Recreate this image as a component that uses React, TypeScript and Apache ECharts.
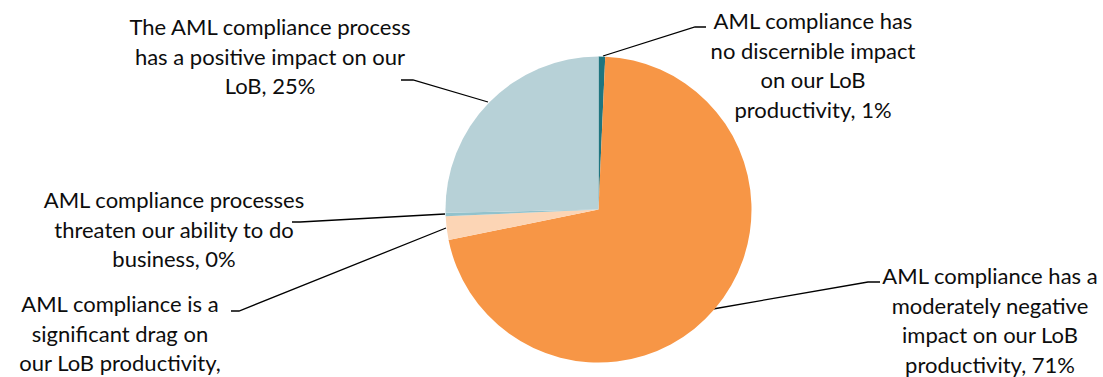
import React, { useEffect, useRef } from "react";
import * as echarts from "echarts";

const categories = [
  "AML compliance has\nno discernible impact\non our LoB\nproductivity",
  "AML compliance has a\nmoderately negative\nimpact on our LoB\nproductivity",
  "AML compliance is a\nsignificant drag on\nour LoB productivity",
  "AML compliance processes\nthreaten our ability to do\nbusiness",
  "The AML compliance process\nhas a positive impact on our\nLoB",
];
const values = [0.7, 71.1, 2.5, 0.35, 25.35];
const colors = ["#1F757F", "#F79646", "#FCD5B5", "#92C2CC", "#B7D1D7"];
// the reference cuts this slice's percentage off at the bottom edge
const percentHidden = [false, false, true, false, false];

// label anchor (center x, top y) and label-line elbow points, per slice
const labelAnchors = [
  { x: 813, y: 6, line: [[603, 56], [695, 27], [706, 27]] },
  { x: 990, y: 261, line: [[713, 309], [868, 282], [880, 282]] },
  { x: 120, y: 289, line: [[446, 228], [239, 311], [231, 311]] },
  { x: 174, y: 185, line: [[445, 214], [300, 222], [292, 222]] },
  { x: 270, y: 12, line: [[488, 102], [413, 80], [401, 80]] },
];

export default function App() {
  const ref = useRef<HTMLDivElement>(null);
  useEffect(() => {
    if (!ref.current) return;
    const chart = echarts.init(ref.current, undefined, { renderer: "svg" });
    chart.setOption({
      animation: false,
      backgroundColor: "#ffffff",
      series: [
        {
          type: "pie",
          center: [598.5, 209.5],
          radius: 153,
          startAngle: 90,
          clockwise: true,
          avoidLabelOverlap: false,
          itemStyle: { borderWidth: 0 },
          data: categories.map((name, i) => ({
            name,
            value: values[i],
            itemStyle: { color: colors[i] },
          })),
          label: {
            show: true,
            position: "outside",
            fontFamily: "Lato",
            fontSize: 22,
            lineHeight: 29.5,
            color: "#0d0d0d",
            align: "center",
            formatter: (p: any) => {
              if (percentHidden[p.dataIndex]) return p.name + ",";
              return p.name + ", " + Math.round(p.value) + "%";
            },
          },
          labelLine: {
            show: true,
            lineStyle: { color: "#000000", width: 1.3 },
          },
          labelLayout: (params: any) => {
            const a = labelAnchors[params.dataIndex];
            return {
              x: a.x,
              y: a.y,
              align: "center",
              verticalAlign: "top",
              labelLinePoints: a.line,
            };
          },
        },
      ],
    });
    return () => chart.dispose();
  }, []);
  return (
    <div
      ref={ref}
      style={{ position: "fixed", left: 0, top: 0, width: 1103, height: 377 }}
    />
  );
}
